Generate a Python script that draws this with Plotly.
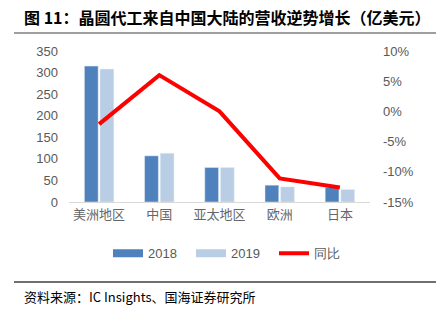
import plotly.graph_objects as go

regions = ["美洲地区", "中国", "亚太地区", "欧洲", "日本"]
rev_2018 = [315, 107, 80, 39, 34]
rev_2019 = [308, 113, 80, 35, 29]
yoy_pct = [-2.1, 6.0, 0.0, -11.1, -12.6]

left_ticks = [0, 50, 100, 150, 200, 250, 300, 350]
right_ticks = [-15, -10, -5, 0, 5, 10]

C2018 = "#4F81BD"
C2019 = "#B9CDE5"
CLINE = "#FF0000"
GRAY = "#595959"
FONT = "Liberation Sans, Arial, sans-serif"
CJK = "Noto Sans CJK SC, sans-serif"

fig = go.Figure()
fig.add_trace(go.Bar(x=regions, y=rev_2018, name="2018", marker_color=C2018,
                     showlegend=False))
fig.add_trace(go.Bar(x=regions, y=rev_2019, name="2019", marker_color=C2019,
                     showlegend=False))
fig.add_trace(go.Scatter(x=regions, y=yoy_pct, name="同比", yaxis="y2",
                         mode="lines", line=dict(color=CLINE, width=4),
                         showlegend=False))

# legend entries drawn as wide swatches
for name, color, w in [("2018", C2018, 8), ("2019", C2019, 8), ("同比", CLINE, 4)]:
    fig.add_trace(go.Scatter(x=[None], y=[None], mode="lines", name=name,
                             line=dict(color=color, width=w), yaxis="y2"))

fig.update_layout(
    width=442, height=322,
    margin=dict(l=69, r=72, t=51, b=120),
    paper_bgcolor="white", plot_bgcolor="white",
    barmode="group", bargap=0.48, bargroupgap=0.12,
    font=dict(family=FONT, size=13, color=GRAY),
    xaxis=dict(showgrid=False, showline=True, linecolor="#D9D9D9", linewidth=1,
               ticks="", tickfont=dict(family=CJK, size=13, color="#666666")),
    yaxis=dict(range=[0, 350], tickvals=left_ticks, showgrid=False,
               zeroline=False, showline=False, ticks="", ticklabelstandoff=10,
               tickfont=dict(family=FONT, size=13, color=GRAY)),
    yaxis2=dict(range=[-15, 10], tickvals=right_ticks,
                ticktext=[f"{v}%" for v in right_ticks],
                overlaying="y", side="right", showgrid=False, zeroline=False,
                showline=False, ticks="", ticklabelstandoff=12,
                tickfont=dict(family=FONT, size=13, color=GRAY)),
    legend=dict(orientation="h", x=(108 - 69) / 301, xanchor="left", y=-0.34,
                yanchor="middle", font=dict(family=FONT, size=13, color=GRAY),
                itemwidth=30, entrywidth=38, entrywidthmode="pixels",
                tracegroupgap=0),
    showlegend=True,
)

fig.add_annotation(text="<b>图 11：晶圆代工来自中国大陆的营收逆势增长（亿美元）</b>",
                   xref="paper", yref="paper", x=(22 - 69) / 301, y=(202 - 17) / 151,
                   xanchor="left", yanchor="middle", showarrow=False,
                   font=dict(family=CJK, size=16, color="#000000"))
fig.add_annotation(text="资料来源：IC Insights、国海证券研究所",
                   xref="paper", yref="paper", x=(22 - 69) / 301, y=(202 - 296) / 151,
                   xanchor="left", yanchor="middle", showarrow=False,
                   font=dict(family=CJK, size=13, color="#000000"))

fig.add_shape(type="line", xref="paper", yref="paper",
              x0=(14 - 69) / 301, x1=(436 - 69) / 301,
              y0=(202 - 33) / 151, y1=(202 - 33) / 151,
              line=dict(color="#7F7F7F", width=1.5))
fig.add_shape(type="line", xref="paper", yref="paper",
              x0=(14 - 69) / 301, x1=(436 - 69) / 301,
              y0=(202 - 282) / 151, y1=(202 - 282) / 151,
              line=dict(color="#404040", width=1.5))

fig.write_html("out.html")
